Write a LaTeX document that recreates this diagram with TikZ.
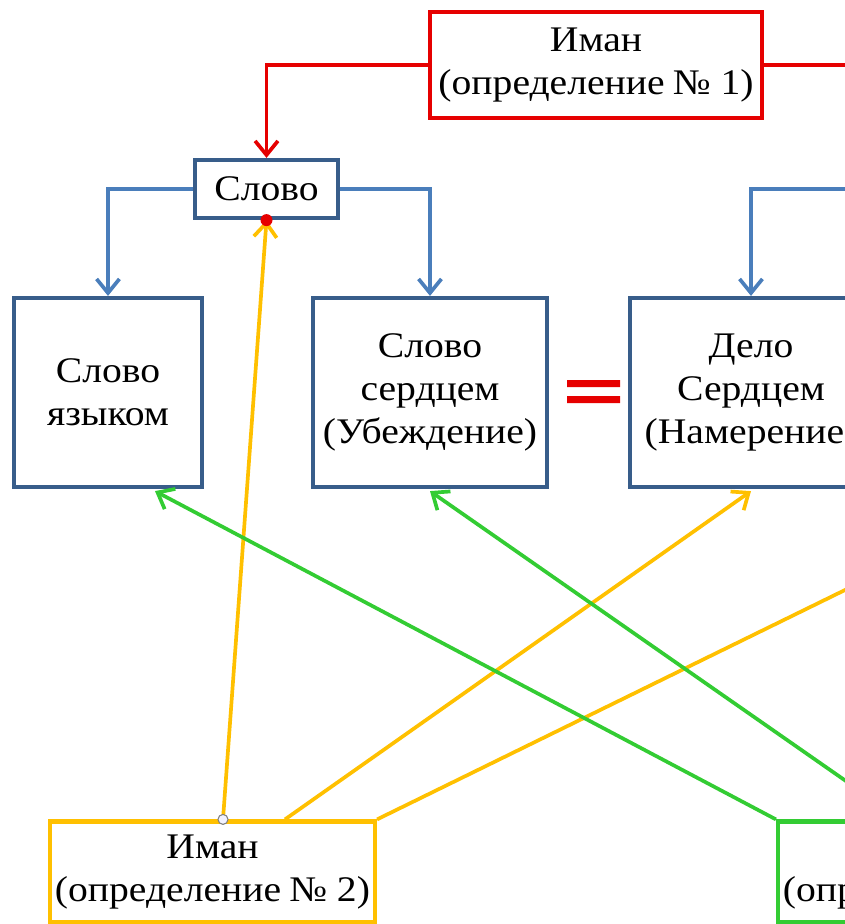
\documentclass[tikz,border=0pt]{standalone}
\usepackage{fontspec}
\setmainfont{Liberation Serif}[FakeStretch=1.1]
\usetikzlibrary{arrows.meta}
\definecolor{imred}{RGB}{230,0,0}
\definecolor{boxblue}{RGB}{56,93,138}
\definecolor{lineblue}{RGB}{74,126,187}
\definecolor{imyellow}{RGB}{255,192,0}
\definecolor{imgreen}{RGB}{51,204,51}
\begin{document}
\begin{tikzpicture}[x=0.02cm,y=-0.02cm,
          every node/.style={inner sep=2pt,align=center,font=\fontsize{20.5}{24.5}\selectfont},
          >={Straight Barb[length=8pt,width=13pt]},
          box/.style={draw=boxblue,line width=2.4pt,fill=white,rectangle},
          defbox/.style={draw=#1,line width=2.4pt,fill=white,rectangle,
             minimum width=6.5cm,minimum height=2.02cm},
          link/.style={draw=#1,line width=2.1pt,->}]
          \useasboundingbox(0,0)rectangle(845,924);
          \clip(0,0)rectangle(845,924);
          % boxes
          \node[defbox=imred,minimum width=6.64cm,minimum height=2.12cm](def1)at(596,65)
             {Иман\\(определение {\kern-1pt}№ 1)};
          \node[box,minimum width=2.86cm,minimum height=1.16cm](slovo)at(266.5,189){Слово};
          \node[box,minimum width=3.76cm,minimum height=3.78cm](yaz)at(108,392.5)
             {Слово\\языком};
          \node[box,minimum width=4.68cm,minimum height=3.78cm](serd)at(430,392.5)
             {Слово\\сердцем\\(Убеждение)};
          \node[box,minimum width=4.84cm,minimum height=3.78cm](delo)at(751,392.5)
             {Дело\\Сердцем\\(Намерение)};
          \node[defbox=imyellow](def2)at(212.5,872){Иман\\(определение {\kern-1pt}№ 2)};
          \node[defbox=imgreen](def3)at(940.5,872){Иман\\(определение {\kern-1pt}№ 3)};
          \coordinate(offred)at(900,65);
          \coordinate(offblue)at(900,189);
          \coordinate(offyellow)at(1000,514);
          % equal sign
          \fill[imred](567,380)rectangle(620,387)(567,396)rectangle(620,403);
          % red
          \draw[link=imred](def1.west)-|(slovo.north);
          \draw[link=imred,-](def1.east)--(offred);
          % blue
          \draw[link=lineblue](slovo.west)-|(yaz.north);
          \draw[link=lineblue](slovo.east)-|(serd.north);
          \draw[link=lineblue](offblue)-|(delo.north);
          % yellow
          \draw[link=imyellow]([xshift=0.21cm]def2.north)--(slovo.south);
          \draw[link=imyellow]([xshift=1.45cm]def2.north)--([yshift=-0.04cm]delo.south);
          \draw[link=imyellow,-](def2.north east)--(offyellow);
          % green
          \draw[link=imgreen](def3.north west)--([xshift=0.94cm,yshift=-0.04cm]yaz.south);
          \draw[link=imgreen]([xshift=-0.79cm]def3.north)--([yshift=-0.04cm]serd.south);
          % ends
          \fill[imred](slovo.south)circle(6);
          \filldraw[fill=blue!5,draw=gray,line width=0.6pt]([xshift=0.21cm]def2.north)circle(5);
        \end{tikzpicture}
\end{document}
